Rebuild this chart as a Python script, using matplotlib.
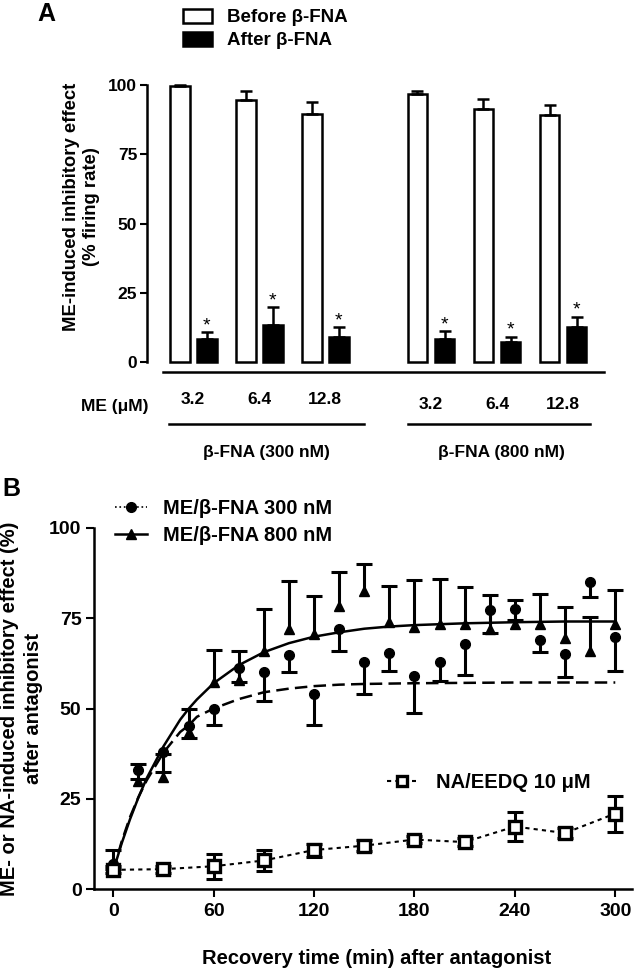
import matplotlib
matplotlib.use('Agg')
import matplotlib.pyplot as plt
import numpy as np
from matplotlib.lines import Line2D
from matplotlib.patches import Patch

plt.rcParams['font.family'] = ['Liberation Sans', 'DejaVu Sans']
plt.rcParams['font.weight'] = 'bold'
plt.rcParams['axes.labelweight'] = 'bold'

# ---- panel A data ----
conc_labels = ['3.2', '6.4', '12.8', '3.2', '6.4', '12.8']
group_labels = ['β-FNA (300 nM)', 'β-FNA (800 nM)']
before = [99.6, 94.5, 89.6, 96.6, 91.2, 89.1]
before_err = [0.3, 3.4, 4.4, 1.2, 3.9, 3.8]
after = [8.2, 13.5, 9.0, 8.3, 7.3, 12.5]
after_err = [2.6, 6.3, 3.5, 2.9, 1.9, 3.9]

# ---- panel B data ----
t_me = [0, 15, 30, 45, 60, 75, 90, 105, 120, 135, 150, 165, 180, 195, 210,
        225, 240, 255, 270, 285, 300]
me300 = [7.0, 33.0, 38.0, 45.2, 50.0, 61.2, 60.0, 64.7, 54.0, 72.0, 63.0,
         65.3, 59.0, 62.8, 67.8, 77.3, 77.6, 69.0, 65.2, 85.0, 69.8]
me300_err = [1.5, 2.5, 5.5, 3.5, 4.5, 3.8, 8.0, 4.6, 8.6, 6.2, 9.0, 5.0,
             10.2, 5.2, 8.5, 6.5, 3.0, 3.3, 6.6, 4.0, 9.5]
me800 = [7.5, 30.0, 31.0, 43.5, 57.3, 57.8, 66.0, 72.0, 70.5, 78.5, 82.5,
         74.0, 72.5, 73.5, 73.5, 72.0, 73.5, 73.5, 69.5, 66.0, 73.5]
me800_err = [3.2, 4.5, 6.5, 6.5, 8.8, 8.0, 11.7, 13.2, 10.7, 9.3, 7.5, 10.0,
             13.0, 12.3, 10.2, 9.5, 6.5, 8.2, 8.5, 9.3, 9.4]

t_na = [0, 30, 60, 90, 120, 150, 180, 210, 240, 270, 300]
na = [5.3, 5.5, 6.3, 7.9, 10.8, 12.0, 13.7, 13.0, 17.3, 15.5, 20.9]
na_err = [1.0, 1.0, 3.4, 3.0, 1.8, 1.5, 1.0, 1.0, 4.0, 1.5, 5.0]

# fitted curves
fit_t = [0, 5, 10, 15, 20, 30, 40, 45, 50, 60, 75, 90, 105, 120, 135, 150,
         165, 180, 210, 240, 270, 300]
fit800 = [5.0, 12.6, 19.3, 25.3, 30.7, 39.5, 46.9, 49.9, 52.5, 57.0, 62.0,
          65.6, 68.1, 69.9, 71.1, 72.1, 72.7, 73.1, 73.6, 73.9, 74.1, 74.1]
fit300 = [5.0, 13.1, 19.9, 25.4, 30.1, 37.8, 43.5, 45.3, 47.7, 50.0, 52.6,
          54.5, 55.5, 56.2, 56.6, 56.8, 56.9, 57.0, 57.1, 57.2, 57.2, 57.2]

W, H = 635, 973
fig = plt.figure(figsize=(W / 100, H / 100), dpi=100)
fsA = 12.5
fsB = 14
lw = 1.8

# ================= panel A =================
axA = fig.add_axes([147 / W, 1 - 372 / H, (604 - 147) / W, (372 - 79.5) / H])
pos = np.r_[np.arange(3), np.arange(3) + 3.6]
off, bw = 0.205, 0.3
zeros = np.zeros(len(pos))

axA.bar(pos - off, before, bw, color='white', edgecolor='black', linewidth=lw)
axA.bar(pos + off, after, bw, color='black', edgecolor='black', linewidth=lw)
axA.errorbar(pos - off, before, yerr=[zeros, before_err], fmt='none',
             ecolor='black', elinewidth=lw, capsize=4.5, capthick=lw)
axA.errorbar(pos + off, after, yerr=[zeros, after_err], fmt='none',
             ecolor='black', elinewidth=lw, capsize=4.5, capthick=lw)
for p, a, e in zip(pos + off, after, after_err):
    axA.text(p, a + e + 0.6, '*', ha='center', va='baseline', fontsize=14,
             fontweight='normal')

axA.set_xlim(-0.7, 6.22)
axA.set_ylim(-3.6, 102)
axA.set_yticks([0, 25, 50, 75, 100])
axA.set_xticks([])
axA.spines['top'].set_visible(False)
axA.spines['right'].set_visible(False)
axA.spines['left'].set_bounds(0, 100)
axA.spines['bottom'].set_bounds(-0.46, 6.22)
for s in ['left', 'bottom']:
    axA.spines[s].set_linewidth(lw)
axA.tick_params(axis='y', direction='out', length=5, width=1.5,
                labelsize=fsA, pad=2)
axA.set_ylabel('ME-induced inhibitory effect\n(% firing rate)', fontsize=13.3,
               linespacing=1.25)
axA.yaxis.set_label_coords(-0.103, 0.565)

for i, (p, lab) in enumerate(zip(pos, conc_labels)):
    yl = -13.6 if i < 3 else -15.5
    axA.text(p, yl, lab, ha='center', va='center', fontsize=fsA)
axA.text(-1.19, -16.2, 'ME (μM)', ha='center', va='center', fontsize=fsA)
axA.plot([pos[0] - 0.37, pos[2] + 0.58], [-22.2, -22.2], color='black',
         lw=lw, clip_on=False)
axA.plot([pos[3] - 0.35, pos[5] + 0.41], [-22.2, -22.2], color='black',
         lw=lw, clip_on=False)
axA.text(1.11, -32.8, group_labels[0], ha='center', va='center', fontsize=fsA)
axA.text(4.66, -32.8, group_labels[1], ha='center', va='center', fontsize=fsA)

fig.legend([Patch(facecolor='white', edgecolor='black', linewidth=lw),
            Patch(facecolor='black', edgecolor='black', linewidth=lw)],
           ['Before β-FNA', 'After β-FNA'], loc='upper left',
           bbox_to_anchor=(183 / W, 1 - 9 / H), frameon=False,
           handlelength=1.55, handleheight=0.75, handletextpad=0.8,
           labelspacing=0.3, borderpad=0, borderaxespad=0,
           prop={'size': 13.5, 'weight': 'bold'})

fig.text(37 / W, 1 - 2 / H, 'A', fontsize=18, fontweight='bold', va='top')

# ================= panel B =================
axB = fig.add_axes([94 / W, 1 - 889 / H, (632 - 94) / W, (889 - 528) / H])
axB.plot(fit_t, fit800, '-', color='black', lw=lw)
axB.plot(fit_t, fit300, '--', color='black', lw=lw, dashes=(5, 2.5))

capw = 11
# 300 nM: error bars drawn downwards only
m300 = np.array(me300)
e300 = np.array(me300_err)
axB.vlines(t_me, m300 - e300, m300, color='black', lw=2.2)
axB.plot(t_me, m300 - e300, ls='none', marker='_', ms=capw,
         mew=2.2, color='black')
axB.plot(t_me, m300, ls='none', marker='o', ms=7, color='black')

# 800 nM: error bars drawn upwards only
m800 = np.array(me800)
e800 = np.array(me800_err)
axB.vlines(t_me, m800, m800 + e800, color='black', lw=2.2)
axB.plot(t_me, m800 + e800, ls='none', marker='_', ms=capw,
         mew=2.2, color='black')
axB.plot(t_me, m800, ls='none', marker='^', ms=7.5, color='black')

# NA / EEDQ
axB.plot(t_na, na, ls=(0, (2, 2)), lw=1.5, color='black')
axB.errorbar(t_na, na, yerr=na_err, fmt='none', ecolor='black',
             elinewidth=2.2, capsize=capw / 2, capthick=2.2)
axB.plot(t_na, na, ls='none', marker='s', ms=8, mfc='white',
         mec='black', mew=2.4)

axB.set_xlim(-11.5, 310)
axB.set_ylim(0, 100)
axB.set_xticks([0, 60, 120, 180, 240, 300])
axB.set_yticks([0, 25, 50, 75, 100])
axB.spines['top'].set_visible(False)
axB.spines['right'].set_visible(False)
for s in ['left', 'bottom']:
    axB.spines[s].set_linewidth(lw)
axB.tick_params(direction='out', length=6, width=1.5, labelsize=fsB)
axB.tick_params(axis='x', pad=4)
axB.tick_params(axis='y', pad=3)
axB.set_ylabel('ME- or NA-induced inhibitory effect (%)\nafter antagonist',
               fontsize=14.5, linespacing=1.3)
axB.yaxis.set_label_coords(-0.095, 0.5)
axB.set_xlabel('Recovery time (min) after antagonist', fontsize=14.5)
axB.xaxis.set_label_coords(0.526, -0.165)

h300 = Line2D([], [], color='black', ls=':', lw=1.2, marker='o', ms=7)
h800 = Line2D([], [], color='black', ls='-', lw=lw, marker='^', ms=7.5)
hna = Line2D([], [], color='black', ls=(0, (2, 2)), lw=1.5, marker='s',
             ms=7.5, mfc='white', mew=2.4)
leg1 = axB.legend([h300, h800], ['ME/β-FNA 300 nM', 'ME/β-FNA 800 nM'],
                  loc='upper left', bbox_to_anchor=(0.039, 1.08),
                  frameon=False, handlelength=1.6, handletextpad=0.8,
                  labelspacing=0.4, borderpad=0, borderaxespad=0,
                  prop={'size': 14.5, 'weight': 'bold'})
axB.add_artist(leg1)
axB.legend([hna], ['NA/EEDQ 10 μM'], loc='center left',
           bbox_to_anchor=(0.545, 0.294), frameon=False, handlelength=1.45,
           handletextpad=0.95, borderpad=0, borderaxespad=0,
           prop={'size': 14.5, 'weight': 'bold'})

fig.text(2 / W, 1 - 477 / H, 'B', fontsize=18, fontweight='bold', va='top')

fig.savefig('out.png', dpi=100)
